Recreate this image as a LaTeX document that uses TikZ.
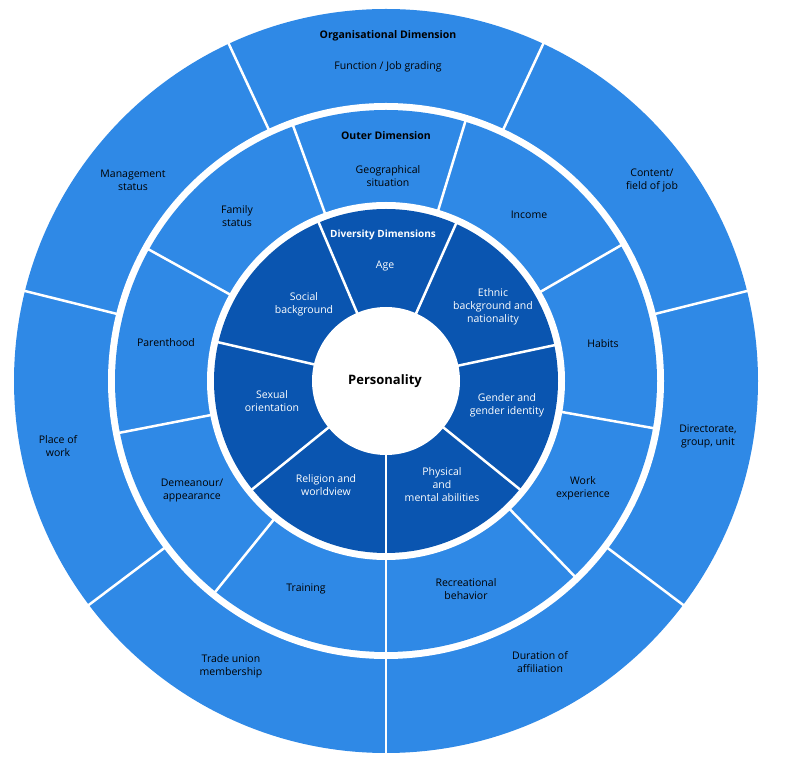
\documentclass[tikz,border=0pt]{standalone}
\usepackage{fontspec}
\setmainfont{Open Sans}
\usetikzlibrary{calc}
\definecolor{lb}{HTML}{2F89E6}
\definecolor{db}{HTML}{0A55B0}
\begin{document}
\begin{tikzpicture}[x=1pt,y=1pt,
  lab/.style={align=center,font=\fontsize{10.5}{13}\selectfont,text=black},
  wlab/.style={align=center,font=\fontsize{10.5}{13}\selectfont,text=white},
  div/.style={white,line width=2.5pt}]
\useasboundingbox (0,0) rectangle (804,761);
\coordinate (c) at (386,380);
\fill[lb] (c) circle (372);
\fill[white] (c) circle (278);
\fill[lb] (c) circle (271);
\fill[white] (c) circle (179);
\fill[db] (c) circle (172);
\fill[white] (c) circle (74);
\foreach \a in {115,65,14,-37,-90,217,166} \draw[div] ($(c)+(\a:277)$) -- ($(c)+(\a:373)$);
\foreach \a in {110,73,30,-10,-46,-90,231,191,151} \draw[div] ($(c)+(\a:178)$) -- ($(c)+(\a:272)$);
\foreach \a in {66,113,167,219,270,321,12} \draw[div] ($(c)+(\a:73)$) -- ($(c)+(\a:173)$);
% outer
\node[lab,font=\fontsize{10.5}{13}\selectfont\bfseries] (od) at (388,725) {Organisational Dimension};
\node[lab] (fj) at (388,694) {Function / Job grading};
\node[lab] (ms) at (133,581) {Management\\status};
\node[lab] (cf) at (652,581) {Content/\\field of job};
\node[lab] (pw) at (58,315) {Place of\\work};
\node[lab] (dg) at (708,325) {Directorate,\\group, unit};
\node[lab] (tu) at (231,95) {Trade union\\membership};
\node[lab] (da) at (540,99) {Duration of\\affiliation};
% middle
\node[lab,font=\fontsize{10.5}{13}\selectfont\bfseries] (odim) at (386,625) {Outer Dimension};
\node[lab] (gs) at (388,585) {Geographical\\situation};
\node[lab] (in) at (529,546) {Income};
\node[lab] (fs) at (237,545) {Family\\status};
\node[lab] (ha) at (603,417) {Habits};
\node[lab] (pa) at (166,418) {Parenthood};
\node[lab] (we) at (583,273) {Work\\experience};
\node[lab] (de) at (192,270) {Demeanour/\\appearance};
\node[lab] (rb) at (466,172) {Recreational\\behavior};
\node[lab] (tr) at (306,172) {Training};
% inner
\node[wlab,font=\fontsize{10}{12}\selectfont\bfseries] (dd) at (383,526) {Diversity Dimensions};
\node[wlab] (ag) at (385,495) {Age};
\node[wlab] (sb) at (304,457) {Social\\background};
\node[wlab] (eb) at (493,454) {Ethnic\\background and\\nationality};
\node[wlab] (so) at (272,360) {Sexual\\orientation};
\node[wlab] (gg) at (507,356) {Gender and\\gender identity};
\node[wlab] (rw) at (326,276) {Religion and\\worldview};
\node[wlab] (pm) at (442,276) {Physical\\and\\mental abilities};
\node[lab,font=\fontsize{13}{15}\selectfont\bfseries] (pe) at (385,380) {Personality};
\end{tikzpicture}
\end{document}
